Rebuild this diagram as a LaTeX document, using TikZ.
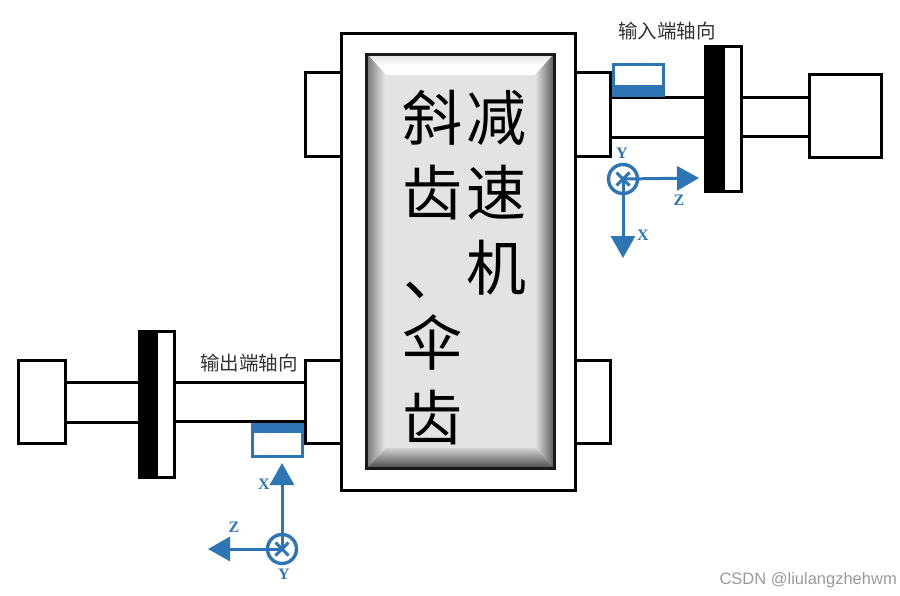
\documentclass[tikz,border=0pt]{standalone}
\usepackage{fontspec}
\setmainfont{Liberation Serif}
\newfontfamily\cjk{Noto Sans CJK SC}
\newfontfamily\wmfont{Liberation Sans}
\usetikzlibrary{arrows.meta,calc}
\definecolor{sensorblue}{HTML}{2E75B6}
\definecolor{facegray}{HTML}{E3E3E3}
\tikzset{
  partbox/.style={draw=black,line width=3pt,fill=white,inner sep=0pt,outer sep=0pt},
  shaftline/.style={draw=black,line width=3pt},
  sensorbox/.style={draw=sensorblue,line width=3pt,fill=white,inner sep=0pt,outer sep=0pt},
  sensorbar/.style={fill=sensorblue,draw=none},
  axiscirc/.style={circle,draw=sensorblue,line width=3.4pt,fill=white,minimum size=29pt,inner sep=0pt,outer sep=0pt},
  axisline/.style={draw=sensorblue,line width=3pt,-{Triangle[length=22pt,width=24pt]}},
  crossline/.style={draw=sensorblue,line width=3pt},
  axislabel/.style={text=sensorblue,font=\bfseries\fontsize{16}{16}\selectfont,inner sep=0pt},
  smalllabel/.style={text=black!80,font=\cjk\fontsize{19.5}{20}\selectfont,inner sep=0pt},
  bigtext/.style={text=black,font=\cjk\fontsize{60}{75}\selectfont,align=center,inner sep=0pt},
  wmark/.style={text=black!40,font=\wmfont\fontsize{16.5}{18}\selectfont,inner sep=0pt}
}
\begin{document}
\begin{tikzpicture}[x=1pt,y=-1pt]
\useasboundingbox (0,0) rectangle (900,595);
% coordinates of parts
\coordinate (tsL) at (610,97.5); \coordinate (tsG) at (704,97.5);
\coordinate (bsL) at (610,137); \coordinate (bsG) at (704,137);
\coordinate (ts2G) at (742,97); \coordinate (ts2M) at (809,97);
\coordinate (bs2G) at (742,136); \coordinate (bs2M) at (809,136);
\coordinate (lt1M) at (66,382.5); \coordinate (lt1G) at (138,382.5);
\coordinate (lb1M) at (66,422); \coordinate (lb1G) at (138,422);
\coordinate (lt2G) at (176,382.5); \coordinate (lt2B) at (305,382.5);
\coordinate (lb2G) at (176,421.5); \coordinate (lb2B) at (305,421.5);
% shafts
\draw[shaftline] (tsL) -- (tsG);
\draw[shaftline] (bsL) -- (bsG);
\draw[shaftline] (ts2G) -- (ts2M);
\draw[shaftline] (bs2G) -- (bs2M);
\draw[shaftline] (lt1M) -- (lt1G);
\draw[shaftline] (lb1M) -- (lb1G);
\draw[shaftline] (lt2G) -- (lt2B);
\draw[shaftline] (lb2G) -- (lb2B);
% bearings
\draw[partbox] (305,72) rectangle (341,156);
\draw[partbox] (575,72) rectangle (610,156);
\draw[partbox] (305,360) rectangle (341,443);
\draw[partbox] (575,360) rectangle (610,443);
% housing
\draw[partbox] (341,33) rectangle (575,490);
% bevelled inner panel
\fill[facegray] (367,55) rectangle (554,468);
\shade[top color=black!12,bottom color=white,middle color=white] (368,55) -- (553,55) -- (535,75) -- (386,75) -- cycle;
\begin{scope}
  \clip (368,55) -- (386,75) -- (386,448) -- (368,467) -- cycle;
  \shade[left color=black!50,middle color=black!12,right color=black!8] (368,55) rectangle (386,467);
\end{scope}
\begin{scope}
  \clip (553,55) -- (535,75) -- (535,448) -- (553,467) -- cycle;
  \shade[left color=facegray,middle color=black!30,right color=black!62] (535,55) rectangle (553,467);
\end{scope}
\begin{scope}
  \clip (368,467) -- (386,448) -- (535,448) -- (553,467) -- cycle;
  \shade[top color=black!18,middle color=black!35,bottom color=black!68] (368,448) rectangle (553,467);
\end{scope}
\draw[black!90,line width=3.4pt] (366.5,54.5) rectangle (554.5,468.5);
% main text
\node[bigtext,anchor=north] (col1) at (432,90) {斜\\齿\\\hspace*{3pt}\raisebox{-5pt}{、}\\伞\\齿};
\node[bigtext,anchor=north] (col2) at (496,90) {减\\速\\机};
% gears and motors
\draw[partbox] (705.5,46.5) rectangle (741.5,191.5);
\fill[black] (704,45) rectangle (725,193);
\draw[partbox] (809,74.5) rectangle (881.5,157.5);
\draw[partbox] (139.5,331.5) rectangle (174.5,477.5);
\fill[black] (138,330) rectangle (158,479);
\draw[partbox] (18.5,360) rectangle (65.5,443.5);
% sensors
\draw[sensorbox] (613.5,64.5) rectangle (663,95);
\fill[sensorbar] (612,85) rectangle (664.5,96.5);
\draw[sensorbox] (252.5,424) rectangle (302,456);
\fill[sensorbar] (251,422.5) rectangle (303.5,433);
% upper axes
\node[axiscirc] (c1) at (623,179) {};
\coordinate (z1) at (699,178);
\coordinate (x1) at (623,258);
\draw[axisline] (c1.center) -- (z1);
\draw[axisline] (c1.center) -- (x1);
\draw[crossline] ($(c1)+(-6.5,-6.5)$) -- ($(c1)+(6.5,6.5)$);
\draw[crossline] ($(c1)+(6.5,-6.5)$) -- ($(c1)+(-6.5,6.5)$);
\node[axislabel] (ly1) at (622,153) {Y};
\node[axislabel] (lz1) at (679,200) {Z};
\node[axislabel] (lx1) at (643,235) {X};
% lower axes
\node[axiscirc] (c2) at (282,549) {};
\coordinate (z2) at (208,549);
\coordinate (x2) at (282,463);
\draw[axisline] (c2.center) -- (z2);
\draw[axisline] (c2.center) -- (x2);
\draw[crossline] ($(c2)+(-6.5,-6.5)$) -- ($(c2)+(6.5,6.5)$);
\draw[crossline] ($(c2)+(6.5,-6.5)$) -- ($(c2)+(-6.5,6.5)$);
\node[axislabel] (ly2) at (284,574) {Y};
\node[axislabel] (lz2) at (234,527) {Z};
\node[axislabel] (lx2) at (264,484) {X};
% labels
\node[smalllabel] (inlab) at (667,31) {输入端轴向};
\node[smalllabel] (outlab) at (249,363) {输出端轴向};
\node[wmark,anchor=east] (wm) at (897,580) {CSDN @liulangzhehwm};
\end{tikzpicture}
\end{document}
